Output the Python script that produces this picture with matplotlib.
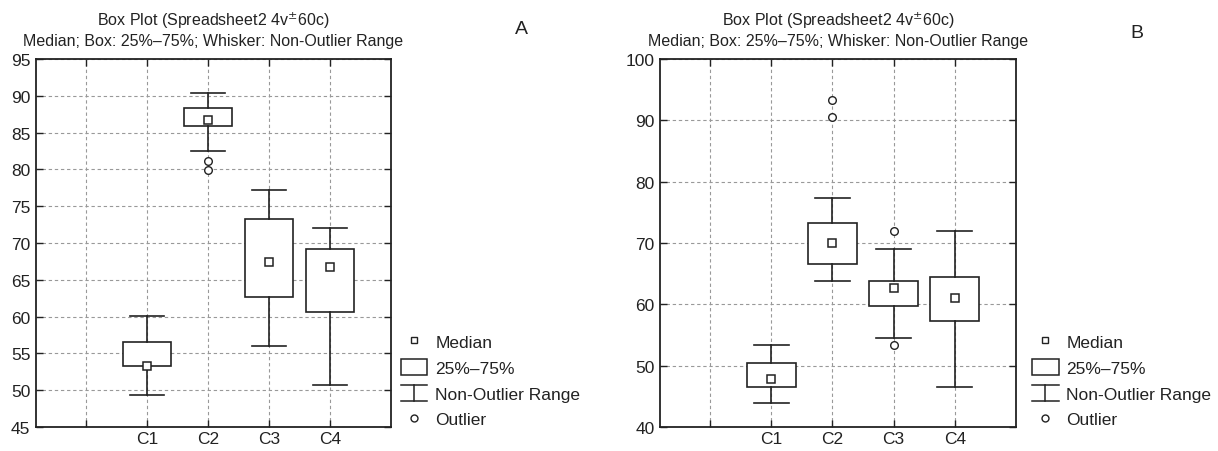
import matplotlib
matplotlib.use("Agg")
import matplotlib.pyplot as plt
from matplotlib.legend_handler import HandlerBase
from matplotlib.lines import Line2D
from matplotlib.patches import Rectangle

plt.rcParams['font.family'] = ['Liberation Sans', 'DejaVu Sans']

# data
cats = ['C1', 'C2', 'C3', 'C4']

a_med = [53.3, 86.7, 67.4, 66.7]
a_q1 = [53.3, 85.9, 62.6, 60.6]
a_q3 = [56.6, 88.4, 73.3, 69.2]
a_lo = [49.3, 82.5, 56.0, 50.7]
a_hi = [60.1, 90.4, 77.2, 72.0]
a_out = [[], [81.1, 79.9], [], []]

b_med = [47.9, 70.0, 62.6, 61.1]
b_q1 = [46.6, 66.5, 59.8, 57.3]
b_q3 = [50.5, 73.2, 63.8, 64.5]
b_lo = [43.9, 63.8, 54.5, 46.6]
b_hi = [53.3, 77.3, 69.1, 71.9]
b_out = [[], [93.3, 90.5], [71.9, 53.3], []]

title = ('Box Plot (Spreadsheet2 4v$^{\\pm}$60c)\n'
         'Median; Box: 25%\u201375%; Whisker: Non-Outlier Range')


class WhiskerHandler(HandlerBase):
    # the "I" symbol used for the non-outlier range
    def create_artists(self, legend, orig_handle, xdescent, ydescent,
                       width, height, fontsize, trans):
        x0, y0 = -xdescent, -ydescent
        cx = x0 + width / 2
        segs = [([x0, x0 + width], [y0 + height, y0 + height]),
                ([x0, x0 + width], [y0, y0]),
                ([cx, cx], [y0, y0 + height])]
        return [Line2D(xs, ys, color='#222222', lw=1.1, transform=trans)
                for xs, ys in segs]


def draw_panel(ax, med, q1, q3, lo, hi, out, yticks, leg_x=1.0):
    pos = list(range(1, len(cats) + 1))
    stats = []
    for i in range(len(cats)):
        stats.append(dict(med=med[i], q1=q1[i], q3=q3[i],
                          whislo=lo[i], whishi=hi[i], fliers=out[i]))
    ax.bxp(stats, positions=pos, widths=0.8, capwidths=0.57,
           patch_artist=True,
           boxprops=dict(facecolor='white', edgecolor='#222222', lw=1.2),
           whiskerprops=dict(color='#222222', lw=1.2),
           capprops=dict(color='#222222', lw=1.2),
           medianprops=dict(visible=False),
           flierprops=dict(marker='o', markersize=5.5, markerfacecolor='white',
                           markeredgecolor='#222222', markeredgewidth=1.0))
    ax.plot(pos, med, 's', ms=5.5, mfc='white', mec='#222222', mew=1.1,
            zorder=5)

    ax.set_xlim(-0.82, 5.0)
    ax.set_ylim(yticks[0], yticks[-1])
    ax.set_xticks([0] + pos)
    ax.set_xticklabels([''] + cats)
    ax.set_yticks(yticks)
    ax.grid(True, color='#999999', ls=(0, (3, 2.5)), lw=0.8)
    ax.set_axisbelow(True)
    ax.tick_params(direction='in', top=True, right=True, length=5,
                   labelsize=12.5, colors='#222222', width=1.0)
    ax.tick_params(axis='y', pad=4)
    ax.tick_params(axis='x', pad=3)
    for s in ax.spines.values():
        s.set_linewidth(1.3)
        s.set_color('#222222')
    ax.set_title(title, fontsize=11.5, color='#222222', pad=10,
                 linespacing=1.3)

    handles = [Line2D([], [], ls='none', marker='s', ms=5, mfc='white',
                      mec='#222222', mew=1.0),
               Rectangle((0, 0), 1, 1, facecolor='white', edgecolor='#222222',
                         lw=1.1),
               object(),
               Line2D([], [], ls='none', marker='o', ms=5, mfc='white',
                      mec='#222222', mew=1.0)]
    labels = ['Median', '25%\u201375%', 'Non-Outlier Range', 'Outlier']
    ax.legend(handles, labels, loc='upper left', bbox_to_anchor=(leg_x, 0.28),
              frameon=False, fontsize=12.5, handlelength=1.55,
              handleheight=1.0, handletextpad=0.45, labelspacing=0.52,
              borderaxespad=0.15, labelcolor='#222222',
              handler_map={handles[2]: WhiskerHandler()})


fig = plt.figure(figsize=(12.18, 4.52), dpi=100)
axA = fig.add_axes([36 / 1218, 24 / 452, 355 / 1218, 368 / 452])
axB = fig.add_axes([660 / 1218, 24 / 452, 356 / 1218, 368 / 452])

draw_panel(axA, a_med, a_q1, a_q3, a_lo, a_hi, a_out, list(range(45, 96, 5)))
draw_panel(axB, b_med, b_q1, b_q3, b_lo, b_hi, b_out, list(range(40, 101, 10)),
           leg_x=1.017)

fig.text(521 / 1218, 1 - 29 / 452, 'A', fontsize=14, ha='center', va='center',
         color='#222222')
fig.text(1137 / 1218, 1 - 33 / 452, 'B', fontsize=14, ha='center', va='center',
         color='#222222')

fig.savefig('out.png', dpi=100, facecolor='white')
